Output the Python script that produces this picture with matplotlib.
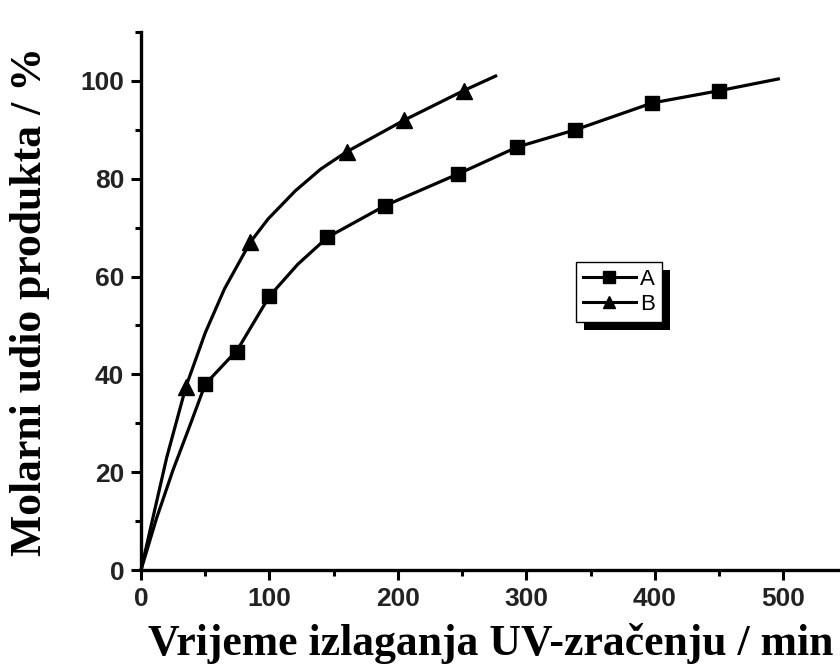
import numpy as np
from matplotlib import pyplot as plt
from matplotlib.patches import Rectangle
from matplotlib.ticker import MultipleLocator

# marker points
A_x = [50, 75, 100, 145, 190, 247, 293, 338, 398, 450]
A_y = [38, 44.5, 56, 68, 74.5, 81, 86.5, 90, 95.5, 98]
B_x = [35, 85, 160, 205, 251]
B_y = [37.5, 67, 85.5, 92, 98]

# points
A_curve_x = [0, 12, 25, 38, 50, 75, 100, 122, 145, 190, 247, 293, 338, 398, 450, 496]
A_curve_y = [0, 10.5, 20.5, 29.5, 38, 45, 56, 62.5, 68, 74.5, 81, 86.5, 90, 95.5, 98, 100.4]
B_curve_x = [0, 10, 20, 35, 50, 65, 85, 99, 120, 140, 160, 205, 251, 276]
B_curve_y = [0, 11.5, 23, 37.5, 48.5, 57.5, 67, 71.8, 77.5, 82, 85.5, 92, 98, 101]

tick_font = {'family': 'Liberation Sans', 'weight': 'bold', 'size': 19}
label_font = {'family': 'Liberation Serif', 'weight': 'bold', 'size': 31.5}


def main():
    fig = plt.figure(figsize=(8.4, 6.72), dpi=100)
    ax = fig.add_axes([141 / 840, 1 - 570 / 672, 1 - 141 / 840, 538 / 672])
    ax.patch.set_visible(False)

    ax.plot(A_curve_x, A_curve_y, color='black', lw=2.3, clip_on=False)
    ax.plot(B_curve_x, B_curve_y, color='black', lw=2.3, clip_on=False)
    ax.plot(A_x, A_y, 's', color='black', ms=10, clip_on=False)
    ax.plot(B_x, B_y, '^', color='black', ms=12, clip_on=False)

    # legend handles
    ax.plot([], [], 's-', color='black', lw=2.2, ms=9, label='A')
    ax.plot([], [], '^-', color='black', lw=2.2, ms=9, label='B')
    handles, labels = ax.get_legend_handles_labels()
    leg = ax.legend(handles[-2:], labels[-2:], loc='upper left',
                    bbox_to_anchor=((576 - 141) / 699, (570 - 262) / 538),
                    fancybox=False, framealpha=1, edgecolor='black',
                    prop={'family': 'Liberation Sans', 'size': 16},
                    handlelength=2.4, handletextpad=0.2, borderpad=0.3,
                    labelspacing=0.2, borderaxespad=0)
    leg.get_frame().set_linewidth(1.0)

    ax.set_xlim(0, 544)
    ax.set_ylim(0, 110)
    ax.xaxis.set_major_locator(MultipleLocator(100))
    ax.xaxis.set_minor_locator(MultipleLocator(50))
    ax.yaxis.set_major_locator(MultipleLocator(20))
    ax.yaxis.set_minor_locator(MultipleLocator(10))
    ax.tick_params(which='major', direction='out', length=7, width=2.2, pad=5)
    ax.tick_params(which='minor', direction='out', length=4, width=2.2)
    for lab in ax.get_xticklabels() + ax.get_yticklabels():
        lab.set_fontproperties(tick_font)
        lab.set_color('#222222')

    ax.spines['top'].set_visible(False)
    ax.spines['right'].set_visible(False)
    ax.spines['left'].set_linewidth(2.4)
    ax.spines['bottom'].set_linewidth(2.4)

    ax.set_xlabel('Vrijeme izlaganja UV-zračenju / min', fontdict=label_font, labelpad=9)
    ax.set_ylabel('Molarni udio produkta / %', fontdict=label_font, labelpad=22)

    # heavy black shadow behind legend box
    fig.canvas.draw()
    bb = leg.get_frame().get_window_extent()
    shadow = Rectangle((bb.x0 + 8, bb.y0 - 8), bb.width, bb.height,
                       transform=None, facecolor='black', edgecolor='none', zorder=-1)
    fig.patches.append(shadow)

    fig.savefig('out.png', dpi=100)


if __name__ == '__main__':
    main()
